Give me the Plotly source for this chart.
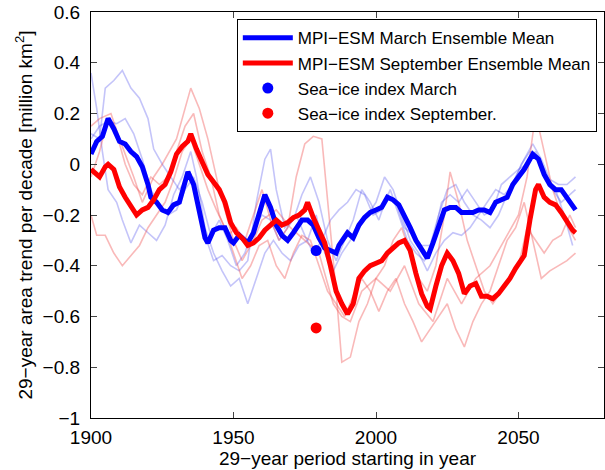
import plotly.graph_objects as go

# ---------------- data ----------------
blue_mean_years = [1900,1902,1904,1906,1908,1910,1912,1914,1916,1918,1920,1921,1923,1925,1927,1929,1931,1933,1934,1936,1938,1940,1941,1943,1945,1947,1949,1950,1952,1954,1955,1957,1959,1961,1963,1965,1967,1969,1971,1972,1974,1976,1978,1980,1982,1984,1986,1987,1989,1990,1992,1994,1996,1998,2000,2002,2004,2006,2008,2010,2012,2014,2016,2018,2020,2022,2024,2026,2028,2030,2032,2034,2036,2038,2040,2042,2044,2046,2048,2050,2052,2054,2055,2057,2059,2061,2063,2065,2067,2069,2070]
blue_mean_vals = [0.04,0.09,0.11,0.18,0.14,0.09,0.08,0.05,0.03,-0.01,-0.08,-0.13,-0.15,-0.18,-0.19,-0.16,-0.15,-0.06,-0.03,-0.08,-0.18,-0.29,-0.31,-0.26,-0.25,-0.25,-0.30,-0.31,-0.28,-0.30,-0.31,-0.27,-0.20,-0.12,-0.17,-0.24,-0.28,-0.30,-0.27,-0.25,-0.22,-0.22,-0.24,-0.29,-0.33,-0.34,-0.35,-0.32,-0.28,-0.27,-0.29,-0.24,-0.21,-0.19,-0.18,-0.17,-0.13,-0.14,-0.16,-0.20,-0.25,-0.30,-0.34,-0.37,-0.31,-0.24,-0.18,-0.17,-0.17,-0.19,-0.19,-0.19,-0.18,-0.18,-0.19,-0.15,-0.14,-0.13,-0.08,-0.05,-0.02,0.02,0.04,0.02,-0.04,-0.08,-0.10,-0.10,-0.13,-0.16,-0.18]

red_mean_years = [1900,1902,1903,1905,1906,1908,1910,1912,1914,1916,1918,1920,1922,1924,1926,1928,1930,1932,1934,1935,1937,1939,1941,1943,1945,1947,1949,1951,1953,1955,1957,1959,1961,1963,1965,1967,1969,1971,1973,1975,1976,1978,1980,1982,1984,1986,1988,1990,1992,1994,1996,1998,2000,2002,2004,2006,2008,2010,2012,2014,2016,2018,2019,2021,2023,2025,2027,2029,2031,2033,2035,2037,2039,2041,2043,2045,2047,2049,2050,2052,2054,2056,2057,2059,2061,2063,2065,2067,2069,2070]
red_mean_vals = [-0.02,-0.04,-0.05,-0.01,0.0,-0.02,-0.09,-0.13,-0.17,-0.20,-0.18,-0.17,-0.14,-0.10,-0.08,-0.03,0.04,0.07,0.09,0.12,0.06,0.01,-0.04,-0.07,-0.10,-0.15,-0.23,-0.27,-0.29,-0.32,-0.31,-0.29,-0.26,-0.24,-0.22,-0.24,-0.23,-0.21,-0.20,-0.18,-0.15,-0.21,-0.26,-0.31,-0.40,-0.50,-0.55,-0.59,-0.55,-0.45,-0.42,-0.40,-0.39,-0.38,-0.35,-0.33,-0.31,-0.30,-0.34,-0.43,-0.51,-0.56,-0.57,-0.48,-0.40,-0.35,-0.38,-0.43,-0.51,-0.48,-0.47,-0.52,-0.52,-0.53,-0.51,-0.48,-0.45,-0.41,-0.39,-0.36,-0.22,-0.10,-0.08,-0.13,-0.15,-0.16,-0.19,-0.23,-0.26,-0.27]

# ensemble members (thin lines)
b1_years = [1900,1902,1904,1906,1909,1911,1914,1917,1920,1923,1926,1929,1932,1935,1937,1940,1943,1946,1949,1952,1955,1958,1961,1964,1967,1970,1973,1976,1979,1982,1985,1988,1991,1994,1997,2000,2003,2006,2009,2012,2015,2018,2021,2024,2027,2030,2033,2036,2039,2042,2045,2048,2051,2054,2057,2060,2063,2066,2069]
b1_vals = [0.36,0.22,0.05,-0.10,-0.15,-0.22,-0.31,-0.24,-0.27,-0.30,-0.24,-0.12,-0.05,0.05,-0.05,-0.25,-0.35,-0.42,-0.48,-0.45,-0.55,-0.45,-0.35,-0.30,-0.35,-0.38,-0.32,-0.30,-0.20,-0.35,-0.42,-0.35,-0.30,-0.25,-0.20,-0.15,-0.05,-0.10,-0.20,-0.30,-0.35,-0.42,-0.35,-0.30,-0.27,-0.28,-0.25,-0.20,-0.15,-0.10,-0.12,-0.08,0.0,0.05,0.03,-0.05,-0.10,-0.20,-0.32]

b2_years = [1900,1903,1905,1908,1911,1914,1917,1920,1922,1925,1928,1931,1934,1937,1940,1943,1946,1949,1952,1955,1958,1961,1963,1965,1968,1971,1974,1977,1980,1983,1986,1989,1992,1995,1998,2001,2004,2007,2010,2013,2016,2019,2022,2025,2028,2031,2034,2037,2040,2043,2046,2049,2052,2055,2058,2061,2064,2067,2070]
b2_vals = [0.12,0.10,0.30,0.33,0.37,0.30,0.26,0.18,0.06,0.0,-0.05,-0.10,-0.05,-0.10,-0.28,-0.38,-0.36,-0.40,-0.42,-0.38,-0.15,0.02,0.06,-0.10,-0.25,-0.22,-0.12,-0.05,-0.15,-0.30,-0.38,-0.30,-0.22,-0.10,-0.15,-0.22,-0.12,-0.15,-0.25,-0.28,-0.32,-0.32,-0.20,-0.10,-0.08,-0.15,-0.20,-0.22,-0.25,-0.20,-0.12,-0.05,0.02,0.08,0.02,-0.06,-0.08,-0.08,-0.05]

b3_years = [1900,1903,1906,1909,1912,1915,1918,1921,1924,1927,1930,1933,1936,1939,1942,1945,1948,1951,1954,1957,1960,1963,1966,1969,1972,1975,1978,1981,1984,1987,1990,1993,1996,1999,2002,2005,2008,2011,2014,2017,2020,2023,2026,2029,2032,2035,2038,2041,2044,2047,2050,2053,2056,2059,2062,2065,2068,2070]
b3_vals = [0.10,0.15,0.17,0.16,0.18,0.12,0.02,-0.10,-0.16,-0.20,-0.18,-0.10,-0.05,-0.15,-0.28,-0.22,-0.30,-0.40,-0.35,-0.25,-0.20,-0.22,-0.30,-0.25,-0.20,-0.28,-0.35,-0.30,-0.22,-0.18,-0.15,-0.10,-0.12,-0.20,-0.18,-0.10,-0.20,-0.30,-0.35,-0.38,-0.30,-0.15,-0.12,-0.15,-0.10,-0.15,-0.20,-0.18,-0.08,-0.05,-0.02,0.0,0.05,-0.02,-0.10,-0.15,-0.12,-0.10]

r1_years = [1900,1903,1907,1910,1915,1918,1922,1925,1930,1935,1938,1941,1945,1950,1953,1957,1960,1965,1970,1975,1980,1985,1988,1991,1995,2000,2005,2010,2015,2020,2025,2030,2035,2040,2045,2050,2053,2056,2058,2062,2065,2070]
r1_vals = [0.15,0.18,0.20,0.10,-0.05,-0.15,-0.05,0.0,0.10,0.30,0.22,0.10,-0.10,-0.30,-0.38,-0.30,-0.22,-0.18,-0.25,-0.30,-0.35,-0.55,-0.60,-0.62,-0.50,-0.45,-0.50,-0.40,-0.55,-0.62,-0.45,-0.55,-0.45,-0.40,-0.30,-0.20,-0.05,0.20,0.10,-0.10,-0.20,-0.30]

r2_years = [1900,1903,1906,1909,1912,1915,1918,1921,1924,1927,1930,1933,1936,1939,1942,1945,1948,1951,1954,1957,1960,1963,1966,1969,1972,1975,1978,1981,1984,1986,1988,1991,1994,1997,2000,2003,2006,2009,2012,2015,2018,2021,2024,2026,2029,2032,2035,2038,2041,2044,2047,2050,2053,2056,2059,2062,2065,2068,2070]
r2_vals = [-0.05,0.05,0.18,0.12,0.0,-0.08,-0.12,-0.05,-0.08,-0.05,0.05,0.15,0.20,0.05,-0.05,-0.20,-0.28,-0.25,-0.30,-0.20,-0.10,-0.22,-0.30,-0.25,-0.05,0.08,0.11,0.10,-0.25,-0.50,-0.78,-0.76,-0.62,-0.55,-0.45,-0.40,-0.30,-0.25,-0.35,-0.45,-0.50,-0.40,-0.20,-0.03,-0.15,-0.30,-0.40,-0.50,-0.55,-0.50,-0.45,-0.40,-0.25,-0.30,-0.35,-0.30,-0.28,-0.20,-0.25]

r3_years = [1900,1902,1905,1908,1911,1914,1917,1920,1923,1926,1929,1932,1935,1938,1941,1944,1947,1950,1953,1956,1959,1962,1965,1968,1971,1974,1977,1980,1983,1986,1989,1992,1995,1998,2001,2004,2007,2010,2013,2016,2019,2022,2025,2028,2031,2034,2037,2040,2043,2046,2049,2052,2055,2058,2061,2064,2067,2070]
r3_vals = [-0.20,-0.28,-0.28,-0.35,-0.40,-0.36,-0.32,-0.25,-0.20,-0.15,-0.06,0.05,0.10,0.0,-0.10,-0.18,-0.25,-0.35,-0.45,-0.40,-0.32,-0.30,-0.40,-0.45,-0.35,-0.28,-0.30,-0.40,-0.50,-0.55,-0.60,-0.52,-0.45,-0.50,-0.58,-0.50,-0.45,-0.55,-0.62,-0.70,-0.65,-0.60,-0.55,-0.65,-0.72,-0.62,-0.55,-0.50,-0.40,-0.30,-0.25,-0.15,-0.30,-0.45,-0.42,-0.40,-0.38,-0.35]

obs_year = [1979]
obs_march = [-0.34]
obs_september = [-0.645]

x_ticks = [1900, 1950, 2000, 2050]
y_ticks = [-1, -0.8, -0.6, -0.4, -0.2, 0, 0.2, 0.4, 0.6]
y_tick_text = ["\u22121", "\u22120.8", "\u22120.6", "\u22120.4", "\u22120.2", "0", "0.2", "0.4", "0.6"]

# ---------------- figure ----------------
fig = go.Figure()

thin_blue = "rgba(70,70,235,0.32)"
thin_red = "rgba(240,70,70,0.38)"
for yrs, vals in [(b1_years, b1_vals), (b2_years, b2_vals), (b3_years, b3_vals)]:
    fig.add_trace(go.Scatter(x=yrs, y=vals, mode="lines", line=dict(color=thin_blue, width=1.6),
                             showlegend=False, hoverinfo="skip"))
for yrs, vals in [(r1_years, r1_vals), (r2_years, r2_vals), (r3_years, r3_vals)]:
    fig.add_trace(go.Scatter(x=yrs, y=vals, mode="lines", line=dict(color=thin_red, width=1.6),
                             showlegend=False, hoverinfo="skip"))

fig.add_trace(go.Scatter(x=blue_mean_years, y=blue_mean_vals, mode="lines",
                         line=dict(color="#0000ff", width=5), name="MPI\u2212ESM March Ensemble Mean"))
fig.add_trace(go.Scatter(x=red_mean_years, y=red_mean_vals, mode="lines",
                         line=dict(color="#ff0000", width=5), name="MPI\u2212ESM September Ensemble Mean"))
fig.add_trace(go.Scatter(x=obs_year, y=obs_march, mode="markers",
                         marker=dict(color="#0000ff", size=11), name="Sea\u2212ice index March"))
fig.add_trace(go.Scatter(x=obs_year, y=obs_september, mode="markers",
                         marker=dict(color="#ff0000", size=11), name="Sea\u2212ice index September."))

font_family = "Liberation Sans, Arial, sans-serif"
fig.update_layout(
    width=605, height=470,
    margin=dict(l=91, r=1, t=12, b=52),
    paper_bgcolor="white", plot_bgcolor="white",
    font=dict(family=font_family, size=18, color="black"),
    showlegend=True,
    legend=dict(x=0.986, y=0.982, xanchor="right", yanchor="top",
                bgcolor="white", bordercolor="black", borderwidth=1,
                font=dict(size=17), tracegroupgap=0, itemwidth=50),
    xaxis=dict(range=[1900, 2080], tickvals=x_ticks, ticks="inside", ticklen=6,
               showline=True, linecolor="black", linewidth=1.2, mirror="ticks",
               showgrid=False, zeroline=False, tickfont=dict(size=19),
               ticklabelstandoff=2,
               title=dict(text="29\u2212year period starting in year", font=dict(size=19), standoff=0)),
    yaxis=dict(range=[-1, 0.6], tickvals=y_ticks, ticktext=y_tick_text, ticks="inside", ticklen=6,
               showline=True, linecolor="black", linewidth=1.2, mirror="ticks",
               showgrid=False, zeroline=False, tickfont=dict(size=19),
               ticklabelstandoff=6,
               title=dict(text="29\u2212year area trend per decade [million km<sup>2</sup>]",
                          font=dict(size=19), standoff=4)),
)

fig.write_html("out.html")
